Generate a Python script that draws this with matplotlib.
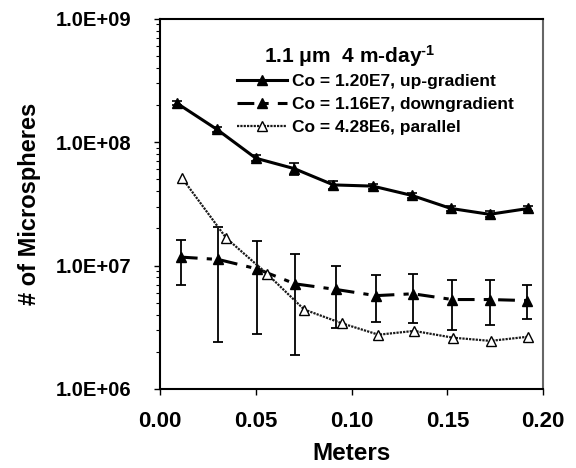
"""
Microsphere counts vs. distance, three transects (log scale)
"""
import numpy as np
import matplotlib
matplotlib.use('Agg')
import matplotlib.pyplot as plt
from matplotlib.lines import Line2D
from matplotlib.ticker import FuncFormatter, LogLocator, NullFormatter

# up-gradient transect
up_x = [0.0087, 0.0296, 0.050, 0.070, 0.0905, 0.111, 0.1314, 0.1518, 0.172, 0.1923]
up_y = [2.07e8, 1.27e8, 7.4e7, 6.1e7, 4.5e7, 4.4e7, 3.7e7, 2.9e7, 2.6e7, 2.9e7]
up_err = [8e6, 6e6, 4e6, 7e6, 3e6, 2e6, 2e6, 1.5e6, 1.5e6, 1.5e6]

# downgradient transect (error bars read as top / bottom values)
down_x = [0.0108, 0.0303, 0.0505, 0.0705, 0.0917, 0.1126, 0.132, 0.1526, 0.172, 0.1915]
down_y = [1.17e7, 1.12e7, 9.4e6, 7.1e6, 6.4e6, 5.7e6, 5.9e6, 5.3e6, 5.3e6, 5.2e6]
down_top = [1.62e7, 2.05e7, 1.59e7, 1.23e7, 1.00e7, 8.3e6, 8.5e6, 7.6e6, 7.6e6, 7.0e6]
down_bot = [7.0e6, 2.4e6, 2.8e6, 1.9e6, 3.1e6, 3.5e6, 3.4e6, 3.0e6, 3.3e6, 3.7e6]

# parallel transect
par_x = [0.0115, 0.0345, 0.0557, 0.0752, 0.0949, 0.114, 0.1326, 0.153, 0.1725, 0.1923]
par_y = [5.1e7, 1.67e7, 8.6e6, 4.4e6, 3.4e6, 2.75e6, 2.95e6, 2.6e6, 2.45e6, 2.65e6]

labels = ['Co = 1.20E7, up-gradient', 'Co = 1.16E7, downgradient', 'Co = 4.28E6, parallel']
title = r'1.1 $\mu$m  4 m-day$^{\text{-1}}$'
x_ticks = [0.0, 0.05, 0.10, 0.15, 0.20]
y_ticks = [1e6, 1e7, 1e8, 1e9]

plt.rcParams['font.family'] = 'Liberation Sans'
plt.rcParams['font.weight'] = 'bold'
plt.rcParams['mathtext.fontset'] = 'custom'
plt.rcParams['mathtext.rm'] = 'Liberation Sans:bold'
plt.rcParams['mathtext.it'] = 'Liberation Sans:bold'
plt.rcParams['mathtext.default'] = 'rm'

fig = plt.figure(figsize=(5.76, 4.68), dpi=100)
ax = fig.add_axes([0.278, 0.169, 0.665, 0.791])

dash_style = (0, (5.5, 3, 1.7, 3))
par_style = (0, (1, 0.5))

ax.errorbar(up_x, up_y, yerr=up_err, color='black', lw=2.2, marker='^',
            ms=7, capsize=3.5, elinewidth=1.2, capthick=1.2, zorder=3)

down_lo = np.array(down_y) - np.array(down_bot)
down_hi = np.array(down_top) - np.array(down_y)
ax.errorbar(down_x, down_y, yerr=[down_lo, down_hi], fmt='none', ecolor='black',
            elinewidth=1.3, capsize=3.5, capthick=1.3, zorder=2)
ax.plot(down_x, down_y, color='black', lw=2.2, ls=dash_style, marker='^', ms=7, zorder=3)

ax.plot(par_x, par_y, color='0.1', lw=1.6, ls=par_style, marker='^', ms=7,
        mfc='white', mec='black', mew=1.0, zorder=4)

ax.set_yscale('log')
ax.set_ylim(1e6, 1e9)
ax.set_xlim(0, 0.2)
ax.set_xticks(x_ticks)
ax.xaxis.set_major_formatter(FuncFormatter(lambda v, p: f'{v:.2f}'))
ax.set_yticks(y_ticks)
ax.yaxis.set_minor_locator(LogLocator(base=10, subs=np.arange(2, 10)))
ax.yaxis.set_minor_formatter(NullFormatter())
ax.yaxis.set_major_formatter(FuncFormatter(lambda v, p: f'{v:.1E}'))

ax.tick_params(axis='both', which='major', direction='out', length=4, width=1)
ax.tick_params(axis='x', which='major', pad=12, labelsize=16)
ax.tick_params(axis='y', which='minor', direction='out', length=3, width=0.8)
ax.tick_params(axis='y', which='major', pad=17, labelsize=14.5)

for side in ['left', 'bottom', 'top']:
    ax.spines[side].set_linewidth(1.5)
    ax.spines[side].set_color('black')
ax.spines['right'].set_linewidth(1.5)
ax.spines['right'].set_color('0.4')

ax.set_xlabel('Meters', fontsize=17.5, fontweight='bold', labelpad=7)
ax.set_ylabel('# of Microspheres', fontsize=17, fontweight='bold', labelpad=10)

# legend
handles = [
    Line2D([], [], color='black', lw=2.2, marker='^', ms=7),
    Line2D([], [], color='black', lw=2.2, ls=dash_style, marker='^', ms=7),
    Line2D([], [], color='0.1', lw=1.6, ls=par_style, marker='^', ms=7,
           mfc='white', mec='black', mew=1.0),
]
leg = ax.legend(handles, labels, loc='upper left', bbox_to_anchor=(0.2, 0.85),
                frameon=False, fontsize=12.5, handlelength=2.9, handletextpad=0.3,
                labelspacing=0.45, borderaxespad=0, borderpad=0)

ax.text(0.27, 0.865, title, transform=ax.transAxes, fontsize=15, fontweight='bold',
        ha='left', va='bottom')

fig.savefig('out.png', dpi=100)
